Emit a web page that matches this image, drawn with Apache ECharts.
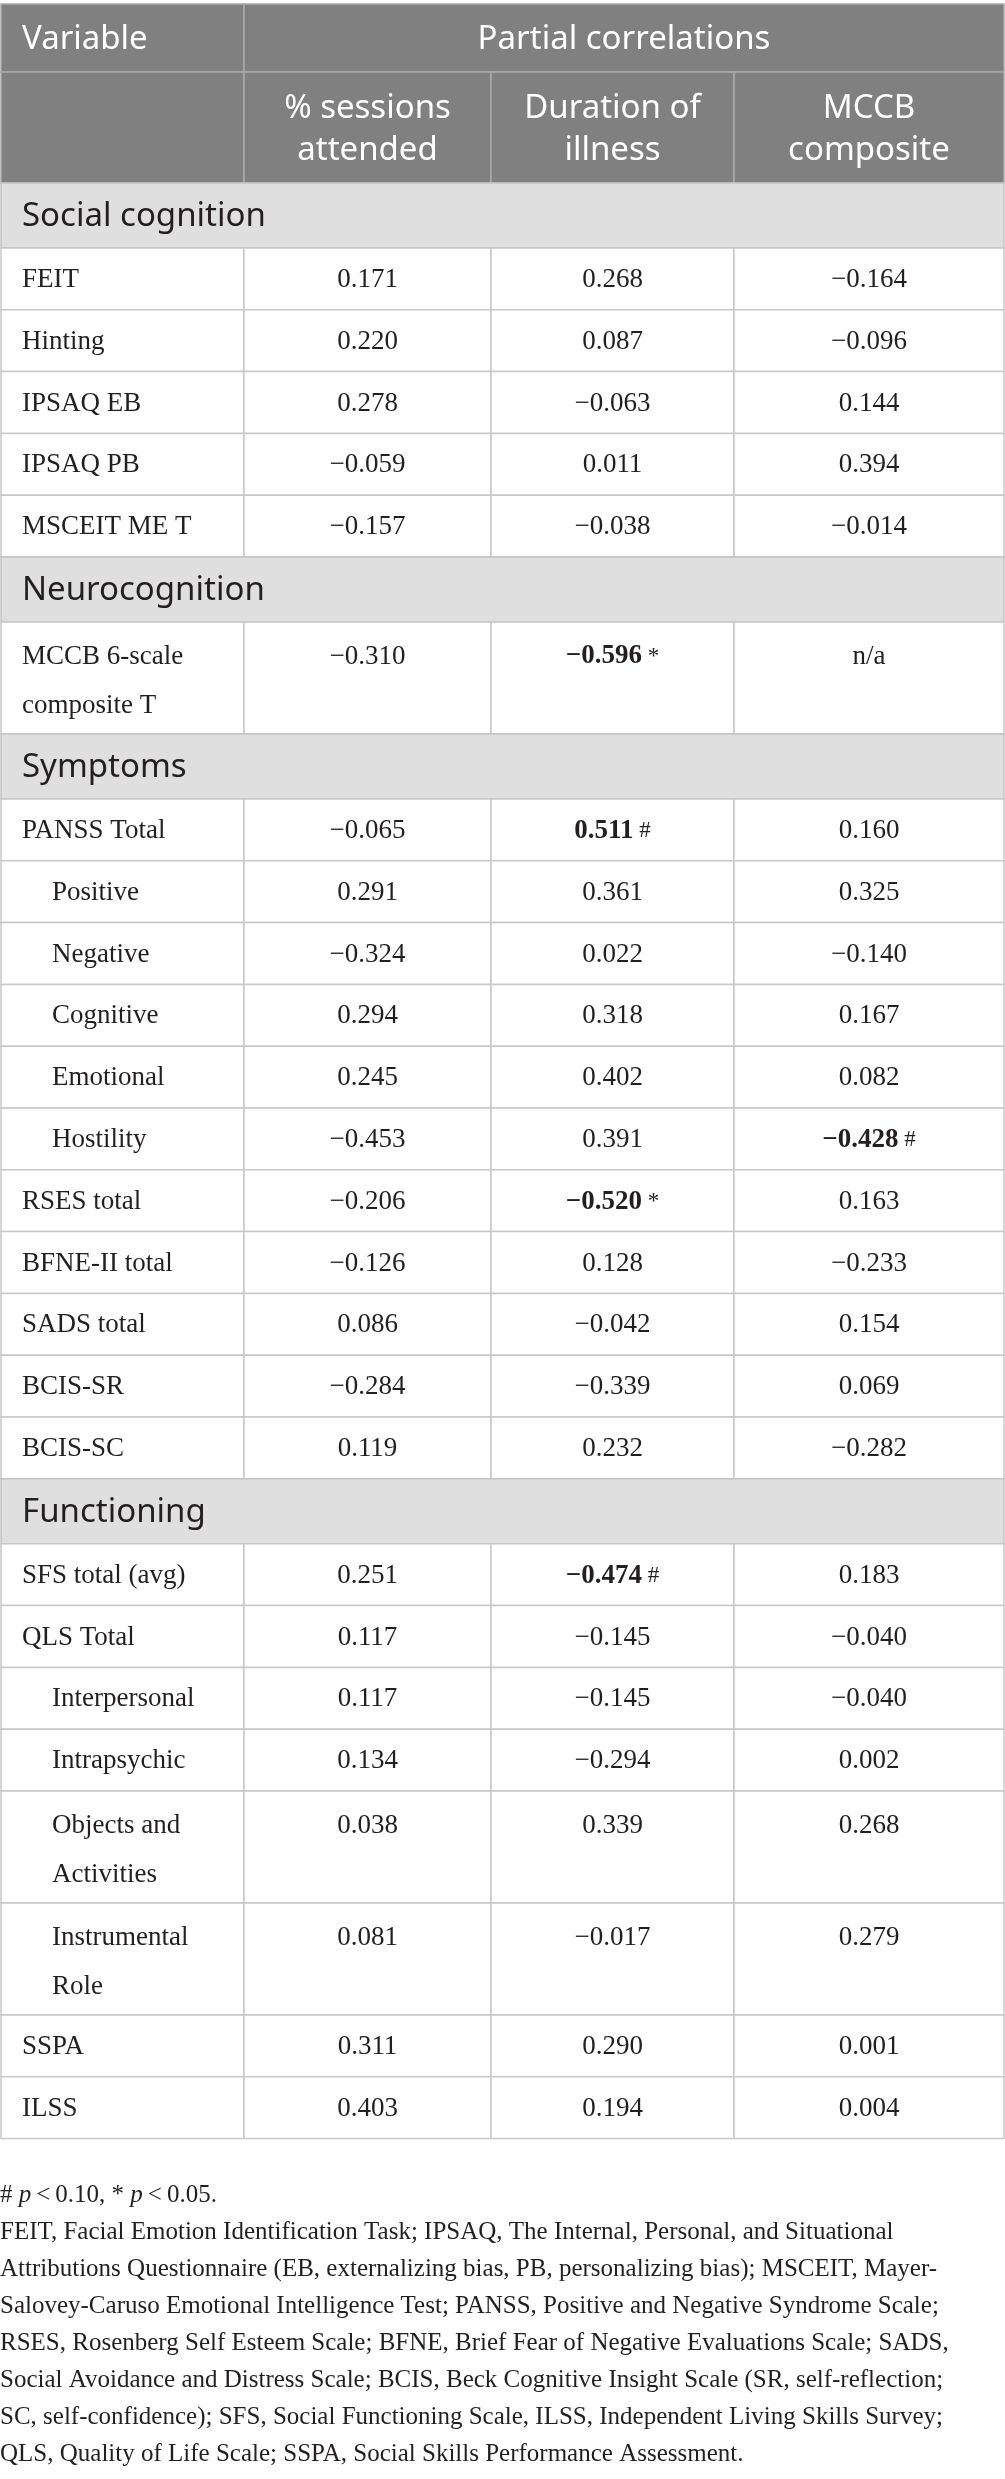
<!DOCTYPE html>
<html>
<head>
<meta charset="utf-8">
<title>Partial correlations</title>
<script src="https://cdn.jsdelivr.net/npm/echarts@6.0.0/dist/echarts.min.js"></script>
<style>
html, body { margin: 0; padding: 0; background: #fff; }
#main { width: 1005px; height: 2479px; }
</style>
</head>
<body>
<div id="main"></div>
<script>
var cornerTitle = 'Variable';
var groupTitle = 'Partial correlations';
var columnTitles = ['% sessions\nattended', 'Duration of\nillness', 'MCCB\ncomposite'];
var sectionNames = ['Social cognition', 'Neurocognition', 'Symptoms', 'Functioning'];

var rowLabels = [
    'FEIT', 'Hinting', 'IPSAQ EB', 'IPSAQ PB', 'MSCEIT ME T',
    'MCCB 6-scale\ncomposite T',
    'PANSS Total', 'Positive', 'Negative', 'Cognitive', 'Emotional', 'Hostility',
    'RSES total', 'BFNE-II total', 'SADS total', 'BCIS-SR', 'BCIS-SC',
    'SFS total (avg)', 'QLS Total', 'Interpersonal', 'Intrapsychic',
    'Objects and\nActivities', 'Instrumental\nRole', 'SSPA', 'ILSS'
];
var rowSection = [0, 0, 0, 0, 0, 1, 2, 2, 2, 2, 2, 2, 2, 2, 2, 2, 2, 3, 3, 3, 3, 3, 3, 3, 3];
// 1 = sub-scale of the row above it
var rowIndent = [0, 0, 0, 0, 0, 0, 0, 1, 1, 1, 1, 1, 0, 0, 0, 0, 0, 0, 0, 1, 1, 1, 1, 0, 0];

var sessionsAttended = [0.171, 0.220, 0.278, -0.059, -0.157, -0.310, -0.065, 0.291, -0.324, 0.294, 0.245, -0.453,
    -0.206, -0.126, 0.086, -0.284, 0.119, 0.251, 0.117, 0.117, 0.134, 0.038, 0.081, 0.311, 0.403];
var durationOfIllness = [0.268, 0.087, -0.063, 0.011, -0.038, -0.596, 0.511, 0.361, 0.022, 0.318, 0.402, 0.391,
    -0.520, 0.128, -0.042, -0.339, 0.232, -0.474, -0.145, -0.145, -0.294, 0.339, -0.017, 0.290, 0.194];
var mccbComposite = [-0.164, -0.096, 0.144, 0.394, -0.014, null, 0.160, 0.325, -0.140, 0.167, 0.082, -0.428,
    0.163, -0.233, 0.154, 0.069, -0.282, 0.183, -0.040, -0.040, 0.002, 0.268, 0.279, 0.001, 0.004];
var sessionsMarks = ['', '', '', '', '', '', '', '', '', '', '', '', '', '', '', '', '', '', '', '', '', '', '', '', ''];
var durationMarks = ['', '', '', '', '', '*', '#', '', '', '', '', '', '*', '', '', '', '', '#', '', '', '', '', '', '', ''];
var mccbMarks = ['', '', '', '', '', '', '', '', '', '', '', '#', '', '', '', '', '', '', '', '', '', '', '', '', ''];

var footnotes = [
    '# {i|p}\u2009<\u20090.10, * {i|p}\u2009<\u20090.05.',
    'FEIT, Facial Emotion Identification Task; IPSAQ, The Internal, Personal, and Situational',
    'Attributions Questionnaire (EB, externalizing bias, PB, personalizing bias); MSCEIT, Mayer-',
    'Salovey-Caruso Emotional Intelligence Test; PANSS, Positive and Negative Syndrome Scale;',
    'RSES, Rosenberg Self Esteem Scale; BFNE, Brief Fear of Negative Evaluations Scale; SADS,',
    'Social Avoidance and Distress Scale; BCIS, Beck Cognitive Insight Scale (SR, self-reflection;',
    'SC, self-confidence); SFS, Social Functioning Scale, ILSS, Independent Living Skills Survey;',
    'QLS, Quality of Life Scale; SSPA, Social Skills Performance Assessment.'
];

// layout
var colWidths = [243, 247, 243, 270];
var headRowHeights = [68, 111];
var sectionHeight = 65;
var lineRowHeight = 61.8;
var twoLineRowHeight = 112;
var SERIF = '"Liberation Serif", "DejaVu Serif", serif';
var SANS = '"Noto Sans", "Open Sans", sans-serif';
var INK = '#231f20';

var cellStyles = {
    head: { fill: '#808080', stroke: '#a9a9a9', color: '#ffffff', fontSize: 33, fontFamily: SANS, lineHeight: 42, dy: 2 },
    section: { fill: '#e0dfe0', stroke: '#c4c4c4', color: INK, fontSize: 33, fontFamily: SANS, lineHeight: 42, dy: 1 },
    body: { fill: '#ffffff', stroke: '#c8c8c8', color: INK, fontSize: 27, fontFamily: SERIF, lineHeight: 49, dy: 1 }
};
var richStyles = {
    b: { fontWeight: 'bold', fontSize: 27, fontFamily: SERIF, fill: INK },
    m: { fontSize: 23, fontFamily: SERIF, fill: INK },
    i: { fontStyle: 'italic', fontSize: 25, fontFamily: SERIF, fill: INK }
};

function formatValue(v, mark) {
    if (v === null) {
        return 'n/a';
    }
    var s = v.toFixed(3).replace('-', '\u2212');
    if (mark) {
        return '{b|' + s + '}{m| ' + mark + '}';
    }
    return s;
}

var colEdges = [0];
colWidths.forEach(function (w, i) {
    colEdges.push(colEdges[i] + w);
});
var totalWidth = colEdges[colEdges.length - 1];

var cells = [];
var y = 0;
cells.push({ x0: 0, x1: colEdges[1], y0: y, y1: y + headRowHeights[0], kind: 'head', text: cornerTitle, align: 'left' });
cells.push({ x0: colEdges[1], x1: totalWidth, y0: y, y1: y + headRowHeights[0], kind: 'head', text: groupTitle, align: 'center' });
y += headRowHeights[0];
cells.push({ x0: 0, x1: colEdges[1], y0: y, y1: y + headRowHeights[1], kind: 'head', text: '', align: 'left' });
columnTitles.forEach(function (t, j) {
    cells.push({ x0: colEdges[j + 1], x1: colEdges[j + 2], y0: y, y1: y + headRowHeights[1], kind: 'head', text: t, align: 'center' });
});
y += headRowHeights[1];

var columns = [sessionsAttended, durationOfIllness, mccbComposite];
var marks = [sessionsMarks, durationMarks, mccbMarks];
var currentSection = -1;
rowLabels.forEach(function (label, i) {
    if (rowSection[i] !== currentSection) {
        currentSection = rowSection[i];
        cells.push({ x0: 0, x1: totalWidth, y0: y, y1: y + sectionHeight, kind: 'section', text: sectionNames[currentSection], align: 'left' });
        y += sectionHeight;
    }
    var twoLines = label.indexOf('\n') >= 0;
    var h = twoLines ? twoLineRowHeight : lineRowHeight;
    cells.push({ x0: 0, x1: colEdges[1], y0: y, y1: y + h, kind: 'body', text: label, align: 'left', indent: rowIndent[i], top: twoLines });
    columns.forEach(function (col, j) {
        cells.push({
            x0: colEdges[j + 1], x1: colEdges[j + 2], y0: y, y1: y + h, kind: 'body',
            text: formatValue(col[i], marks[j][i]), align: 'center', top: twoLines
        });
    });
    y += h;
});
var totalHeight = y;
var tableTop = 4;

function renderCell(params, api) {
    var c = cells[params.dataIndex];
    var a = api.coord([api.value(0), api.value(2)]);
    var b = api.coord([api.value(1), api.value(3)]);
    var x = a[0], top = a[1], w = b[0] - a[0], h = b[1] - a[1];
    var st = cellStyles[c.kind];
    var tx = c.align === 'left' ? x + 21 + (c.indent ? 30 : 0) : x + w / 2;
    var ty, va;
    if (c.top) {
        ty = top + 10;
        va = 'top';
    } else {
        ty = top + h / 2 + st.dy;
        va = 'middle';
    }
    return {
        type: 'group',
        children: [{
            type: 'rect',
            shape: { x: x, y: top, width: w, height: h },
            style: { fill: st.fill, stroke: st.stroke, lineWidth: 1.5 }
        }, {
            type: 'text',
            x: tx,
            y: ty,
            style: {
                text: c.text,
                fill: st.color,
                fontSize: st.fontSize,
                fontFamily: st.fontFamily,
                align: c.align,
                verticalAlign: va,
                lineHeight: st.lineHeight,
                rich: richStyles
            }
        }]
    };
}

var myChart = echarts.init(document.getElementById('main'));
var option = {
    backgroundColor: '#ffffff',
    animation: false,
    grid: { left: 1, top: tableTop, width: totalWidth, height: totalHeight },
    xAxis: { type: 'value', min: 0, max: totalWidth, show: false },
    yAxis: { type: 'value', min: 0, max: totalHeight, inverse: true, show: false },
    graphic: [{
        type: 'text',
        left: 0,
        top: tableTop + totalHeight + 38,
        style: {
            text: footnotes.join('\n'),
            fontSize: 25,
            fontFamily: SERIF,
            fill: INK,
            lineHeight: 37,
            rich: richStyles
        }
    }],
    series: [{
        type: 'custom',
        coordinateSystem: 'cartesian2d',
        silent: true,
        clip: false,
        encode: { x: [0, 1], y: [2, 3] },
        data: cells.map(function (c) { return [c.x0, c.x1, c.y0, c.y1]; }),
        renderItem: renderCell
    }]
};
myChart.setOption(option);
window.onresize = function () {
    myChart.resize();
};
</script>
</body>
</html>
